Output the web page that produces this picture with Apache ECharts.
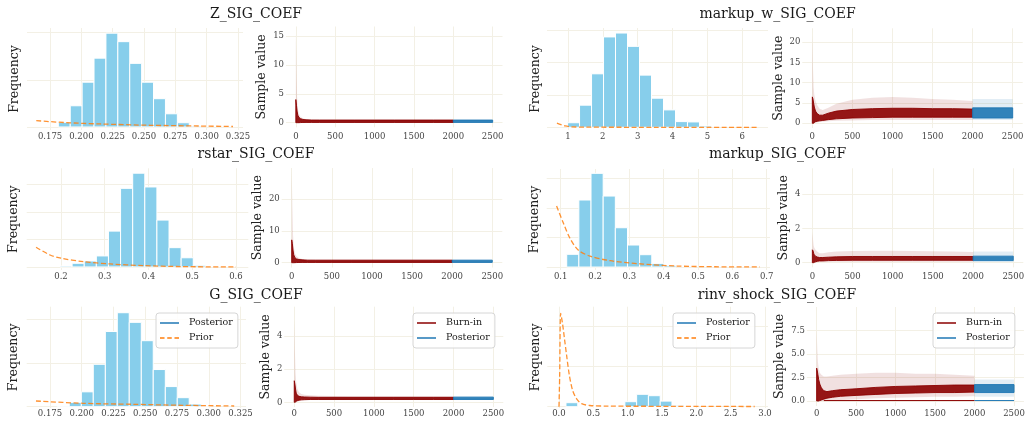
<!DOCTYPE html>
<html>
<head>
<meta charset="utf-8">
<title>SIG_COEF posteriors</title>
<script src="https://cdn.jsdelivr.net/npm/echarts@6/dist/echarts.min.js"></script>
<style>
    html, body { margin: 0; padding: 0; background: #fff; }
    #main { width: 1028px; height: 425px; }
</style>
</head>
<body>
<div id="main"></div>
<script>
// ---------- values ----------
var titles = ['Z_SIG_COEF', 'markup_w_SIG_COEF', 'rstar_SIG_COEF', 'markup_SIG_COEF', 'G_SIG_COEF', 'rinv_shock_SIG_COEF'];

// histogram bin edges / heights, prior curve points [x, density]
var zEdges = [0.1816, 0.1911, 0.2006, 0.2101, 0.2196, 0.2291, 0.2386, 0.2481, 0.2576, 0.2671, 0.2766, 0.2861, 0.2956];
var zHeights = [1.0, 4.5, 9.5, 14.6, 19.9, 18.1, 13.5, 9.5, 6.0, 2.8, 0.9, 0.2];
var zPrior = [[0.164, 1.34], [0.188, 0.92], [0.215, 0.64], [0.255, 0.36], [0.295, 0.2], [0.321, 0.1]];

var mwEdges = [0.990, 1.334, 1.678, 2.022, 2.366, 2.710, 3.054, 3.398, 3.742, 4.086, 4.430, 4.774, 5.118];
var mwHeights = [0.028, 0.136, 0.329, 0.556, 0.580, 0.498, 0.321, 0.179, 0.107, 0.035, 0.033, 0.008];
var mwPrior = [[0.685, 0.025], [0.8, 0.016], [0.92, 0.008], [1.1, 0.003], [1.5, 0.001], [3.0, 0.0], [6.46, 0.0]];

var rsEdges = [0.1977, 0.2254, 0.2531, 0.2808, 0.3085, 0.3362, 0.3639, 0.3916, 0.4193, 0.4470, 0.4747, 0.5024, 0.5301];
var rsHeights = [0.1, 0.4, 0.65, 1.2, 3.9, 8.55, 10.2, 8.7, 5.1, 2.1, 1.0, 0.18];
var rsPrior = [[0.143, 2.14], [0.175, 1.3], [0.2, 0.95], [0.251, 0.58], [0.312, 0.33], [0.387, 0.15], [0.473, 0.04], [0.6, 0.01]];

var mkEdges = [0.1175, 0.1529, 0.1883, 0.2237, 0.2591, 0.2945, 0.3299, 0.3653, 0.4007, 0.4361];
var mkHeights = [1.29, 6.79, 9.49, 7.19, 3.98, 2.23, 1.25, 0.37, 0.17];
var mkPrior = [[0.088, 6.18], [0.108, 4.43], [0.127, 2.91], [0.151, 1.72], [0.185, 1.11], [0.244, 0.64], [0.341, 0.3], [0.438, 0.1], [0.55, 0.03], [0.68, 0.01]];

var gEdges = [0.1808, 0.1902, 0.1997, 0.2091, 0.2186, 0.2280, 0.2374, 0.2469, 0.2563, 0.2658, 0.2752, 0.2846, 0.2941, 0.3035];
var gHeights = [0.15, 1.0, 3.4, 9.7, 17.2, 21.5, 19.3, 15.1, 8.5, 4.6, 2.06, 0.6, 0.15];
var gPrior = [[0.164, 1.3], [0.201, 0.78], [0.24, 0.55], [0.279, 0.32], [0.32, 0.16]];

var riEdges = [0.102, 0.2735, 0.445, 0.6165, 0.788, 0.9595, 1.131, 1.3025, 1.474, 1.6455, 1.817, 1.9885];
var riHeights = [0.2, 0, 0, 0, 0, 0.25, 0.62, 0.55, 0.28, 0.07, 0.015];
var riPrior = [[0.0, 0.0], [0.01, 1.5], [0.025, 4.67], [0.05, 4.2], [0.08, 3.4], [0.11, 2.6], [0.15, 1.6], [0.2, 0.8],
               [0.26, 0.38], [0.33, 0.15], [0.45, 0.06], [0.7, 0.03], [1.5, 0.02], [2.85, 0.01]];

// trace envelopes: faint = all chains (floor..peak), dense = bulk of chains (lo..hi)
var burnIters = [0, 8, 16, 25, 40, 60, 90, 130, 200, 300, 500, 750, 1000, 1250, 1500, 1750, 2000];
var postIters = [2000, 2500];

var zBurnPeak  = [15.5, 9.0, 4.5, 2.5, 1.5, 1.0, 0.75, 0.6, 0.55, 0.5, 0.5, 0.5, 0.5, 0.5, 0.5, 0.5, 0.5];
var zBurnHi    = [4.0, 3.0, 2.0, 1.3, 0.9, 0.7, 0.55, 0.5, 0.45, 0.45, 0.45, 0.45, 0.45, 0.45, 0.45, 0.45, 0.45];
var zBurnLo    = [0, 0, 0, 0, 0, 0.02, 0.04, 0.05, 0.05, 0.05, 0.05, 0.05, 0.05, 0.05, 0.05, 0.05, 0.05];
var zBurnFloor = [0, 0, 0, 0, 0, 0, 0, 0, 0, 0, 0, 0, 0, 0, 0, 0, 0];
var zPost = [0.0, 0.05, 0.45, 0.5];   // floor, lo, hi, peak

var mwBurnPeak  = [22, 14, 9, 7, 5.5, 4.5, 3.6, 3.3, 3.8, 4.8, 5.8, 6.3, 6.5, 6.3, 6.0, 5.8, 5.5];
var mwBurnHi    = [6.5, 6.0, 5.0, 4.0, 3.0, 2.4, 2.0, 2.0, 2.5, 3.0, 3.4, 3.6, 3.7, 3.7, 3.6, 3.6, 3.5];
var mwBurnLo    = [0, 0, 0, 0.2, 0.4, 0.5, 0.6, 0.7, 0.9, 1.1, 1.3, 1.4, 1.5, 1.5, 1.5, 1.5, 1.5];
var mwBurnFloor = [0, 0, 0, 0, 0.1, 0.2, 0.3, 0.4, 0.5, 0.6, 0.7, 0.8, 0.8, 0.8, 0.8, 0.8, 0.8];
var mwPost = [0.8, 1.3, 3.8, 6.0];

var rsBurnPeak  = [29, 18, 9, 5, 3, 2, 1.5, 1.2, 1.0, 0.9, 0.9, 0.9, 0.9, 0.9, 0.9, 0.9, 0.9];
var rsBurnHi    = [7.2, 6.0, 4.0, 2.5, 1.6, 1.2, 1.0, 0.9, 0.8, 0.8, 0.8, 0.8, 0.8, 0.8, 0.8, 0.8, 0.8];
var rsBurnLo    = [0, 0, 0, 0, 0.02, 0.05, 0.08, 0.1, 0.1, 0.1, 0.1, 0.1, 0.1, 0.1, 0.1, 0.1, 0.1];
var rsBurnFloor = [0, 0, 0, 0, 0, 0, 0, 0.05, 0.05, 0.05, 0.05, 0.05, 0.05, 0.05, 0.05, 0.05, 0.05];
var rsPost = [0.05, 0.1, 0.8, 0.9];

var mkBurnPeak  = [1.8, 1.4, 1.0, 0.85, 0.75, 0.65, 0.55, 0.55, 0.6, 0.65, 0.68, 0.7, 0.7, 0.68, 0.66, 0.65, 0.62];
var mkBurnHi    = [0.75, 0.7, 0.55, 0.45, 0.38, 0.33, 0.3, 0.3, 0.32, 0.34, 0.36, 0.36, 0.36, 0.36, 0.36, 0.36, 0.36];
var mkBurnLo    = [0, 0, 0, 0.02, 0.05, 0.08, 0.1, 0.1, 0.12, 0.13, 0.14, 0.14, 0.14, 0.14, 0.14, 0.14, 0.14];
var mkBurnFloor = [0, 0, 0, 0, 0, 0.02, 0.04, 0.05, 0.05, 0.06, 0.06, 0.06, 0.06, 0.06, 0.06, 0.06, 0.06];
var mkPost = [0.06, 0.12, 0.38, 0.65];

var gBurnPeak  = [5.0, 3.2, 1.8, 1.2, 0.8, 0.6, 0.5, 0.45, 0.42, 0.4, 0.38, 0.36, 0.36, 0.36, 0.36, 0.36, 0.36];
var gBurnHi    = [1.3, 1.1, 0.8, 0.55, 0.42, 0.36, 0.33, 0.32, 0.31, 0.3, 0.3, 0.3, 0.3, 0.3, 0.3, 0.3, 0.3];
var gBurnLo    = [0, 0, 0.02, 0.06, 0.1, 0.13, 0.15, 0.16, 0.17, 0.17, 0.17, 0.17, 0.17, 0.17, 0.17, 0.17, 0.17];
var gBurnFloor = [0, 0, 0, 0, 0.03, 0.06, 0.1, 0.12, 0.14, 0.15, 0.15, 0.15, 0.15, 0.15, 0.15, 0.15, 0.15];
var gPost = [0.15, 0.17, 0.31, 0.36];

var riBurnPeak  = [7.7, 5.5, 4.2, 3.5, 3.0, 2.8, 2.6, 2.6, 2.7, 2.8, 2.9, 3.0, 3.0, 2.9, 2.9, 2.8, 2.7];
var riBurnHi    = [3.5, 3.2, 2.8, 2.3, 1.8, 1.4, 1.1, 1.0, 1.1, 1.2, 1.3, 1.45, 1.55, 1.6, 1.65, 1.7, 1.7];
var riBurnLo    = [0, 0, 0, 0, 0.05, 0.1, 0.2, 0.3, 0.4, 0.5, 0.6, 0.7, 0.8, 0.85, 0.9, 0.9, 0.95];
var riBurnFloor = [0, 0, 0, 0, 0, 0, 0, 0, 0, 0.1, 0.2, 0.3, 0.35, 0.4, 0.45, 0.45, 0.5];
var riPost = [0.45, 0.9, 1.75, 2.3];
var riStuckBurn = [[90, 0.05], [2000, 0.05]];
var riStuckPost = [[2000, 0.05], [2500, 0.05]];

// tick labels
var traceXTicks = [0, 500, 1000, 1500, 2000, 2500];
var zXTicks = [0.175, 0.2, 0.225, 0.25, 0.275, 0.3, 0.325];
var mwXTicks = [1, 2, 3, 4, 5, 6];
var rsXTicks = [0.2, 0.3, 0.4, 0.5, 0.6];
var mkXTicks = [0.1, 0.2, 0.3, 0.4, 0.5, 0.6, 0.7];
var riXTicks = [0, 0.5, 1, 1.5, 2, 2.5, 3];
var zYGrid = [0, 10, 20], mwYGrid = [0, 0.2, 0.4, 0.6], rsYGrid = [0, 3, 6, 9], mkYGrid = [0, 3, 6, 9], gYGrid = [0, 10, 20], riYGrid = [0, 2, 4];
var zTraceY = [0, 5, 10, 15], mwTraceY = [0, 5, 10, 15, 20], rsTraceY = [0, 10, 20], mkTraceY = [0, 2, 4], gTraceY = [0, 2, 4], riTraceY = [0, 2.5, 5, 7.5];

// ---------- styling / layout ----------
var FONT = 'DejaVu Serif';
var GRID_COLOR = '#f3f0e5';
var BAR_COLOR = '#87ceeb';
var PRIOR_COLOR = '#ff7f0e';
var BURN_COLOR = '#8b0000';
var POST_COLOR = '#1f77b4';
var DASH_ICON = 'path://M0,0h5v1h-5z M8,0h5v1h-5z M16,0h5v1h-5z';

// box = [left, top, right, bottom] in px
var panels = [
    {kind: 'hist', box: [27, 28, 243, 130], x: [0.1566, 0.3290], y: [-0.64, 21.0], xt: zXTicks, dec: 3, yt: zYGrid, gap: 6, lm: 2.5,
     edges: zEdges, h: zHeights, prior: zPrior},
    {kind: 'trace', box: [286, 26.5, 502.5, 127.3], y: [-0.8, 16.64], yt: zTraceY, ydec: 0, gap: 18, lm: 5,
     burn: [zBurnFloor, zBurnLo, zBurnHi, zBurnPeak], post: zPost},
    {kind: 'hist', box: [547, 28, 768, 130], x: [0.4, 6.74], y: [-0.0167, 0.611], xt: mwXTicks, dec: 0, yt: mwYGrid, gap: 5, lm: 2.5,
     edges: mwEdges, h: mwHeights, prior: mwPrior},
    {kind: 'trace', box: [802.3, 28.3, 1022.7, 128], y: [-1.16, 23.4], yt: mwTraceY, ydec: 0, gap: 17.5, lm: 4.5,
     burn: [mwBurnFloor, mwBurnLo, mwBurnHi, mwBurnPeak], post: mwPost},
    {kind: 'hist', box: [26.7, 168.3, 248.3, 270], x: [0.1216, 0.6282], y: [-0.33, 10.73], xt: rsXTicks, dec: 1, yt: rsYGrid, gap: 6, lm: 2.5,
     edges: rsEdges, h: rsHeights, prior: rsPrior},
    {kind: 'trace', box: [281.7, 168, 502.3, 267.5], y: [-1.51, 29.87], yt: rsTraceY, ydec: 0, gap: 17.5, lm: 5,
     burn: [rsBurnFloor, rsBurnLo, rsBurnHi, rsBurnPeak], post: rsPost},
    {kind: 'hist', box: [546.7, 169, 770, 270], x: [0.0592, 0.7096], y: [-0.30, 9.93], xt: mkXTicks, dec: 1, yt: mkYGrid, gap: 5, lm: 2.5,
     edges: mkEdges, h: mkHeights, prior: mkPrior},
    {kind: 'trace', box: [802.3, 168.3, 1023.3, 267.3], y: [-0.27, 5.5], yt: mkTraceY, ydec: 0, gap: 12, lm: 5,
     burn: [mkBurnFloor, mkBurnLo, mkBurnHi, mkBurnPeak], post: mkPost},
    {kind: 'hist', box: [26.7, 306.7, 246, 408], x: [0.1567, 0.3293], y: [-0.3, 22.88], xt: zXTicks, dec: 3, yt: gYGrid, gap: 6.5, lm: 1,
     edges: gEdges, h: gHeights, prior: gPrior},
    {kind: 'trace', box: [284.3, 306.7, 503.3, 407], y: [-0.283, 5.76], yt: gTraceY, ydec: 0, gap: 12, lm: 2,
     burn: [gBurnFloor, gBurnLo, gBurnHi, gBurnPeak], post: gPost},
    {kind: 'hist', box: [547.3, 306.7, 768, 408], x: [-0.17, 3.044], y: [-0.065, 5.0], xt: riXTicks, dec: 1, yt: riYGrid, gap: 5, lm: 1,
     edges: riEdges, h: riHeights, prior: riPrior},
    {kind: 'trace', box: [806.8, 307, 1023.9, 406], y: [-0.53, 10.0], yt: riTraceY, ydec: 1, gap: 20.5, lm: 3,
     burn: [riBurnFloor, riBurnLo, riBurnHi, riBurnPeak], post: riPost}
];
var titlePos = [[256, 7], [777.5, 7], [256, 147], [777.5, 147], [256, 288], [777, 288]];

var grids = [], xAxes = [], yAxes = [], series = [];
var labelStyle = {fontFamily: FONT, fontSize: 8.5, color: '#444'};
var splitStyle = {show: true, lineStyle: {color: GRID_COLOR, width: 1}};

function fmt(d) { return function (v) { return Number(v).toFixed(d); }; }

// one filled polygon between lo and hi, drawn through the axis scales
function band(name, i, xs, lo, hi, color, alpha, stroke) {
    var rows = xs.map(function (x, k) { return [x, lo[k], hi[k]]; });
    return {
        type: 'custom', name: name, xAxisIndex: i, yAxisIndex: i, silent: true,
        data: rows, encode: {x: 0, y: [1, 2]},
        renderItem: function (params, api) {
            if (params.dataIndex !== 0) return null;
            var top = rows.map(function (r) { return api.coord([r[0], r[2]]); });
            var bot = rows.map(function (r) { return api.coord([r[0], r[1]]); }).reverse();
            return {
                type: 'polygon', shape: {points: top.concat(bot)},
                style: {fill: color, opacity: alpha, stroke: stroke ? color : null, lineWidth: stroke ? 1 : 0}
            };
        }
    };
}

panels.forEach(function (p, i) {
    var trace = p.kind === 'trace';
    grids.push({left: p.box[0], top: p.box[1], width: p.box[2] - p.box[0], height: p.box[3] - p.box[1],
                containLabel: false, outerBoundsMode: 'none'});
    var xt = trace ? traceXTicks : p.xt;
    xAxes.push({
        type: 'value', gridIndex: i, min: trace ? -125 : p.x[0], max: trace ? 2625 : p.x[1],
        axisLine: {show: false}, axisTick: {show: false, customValues: xt},
        axisLabel: Object.assign({customValues: xt, margin: p.lm, formatter: trace ? fmt(0) : fmt(p.dec)}, labelStyle),
        splitLine: splitStyle
    });
    yAxes.push({
        type: 'value', gridIndex: i, min: p.y[0], max: p.y[1],
        name: trace ? 'Sample value' : 'Frequency', nameLocation: 'middle', nameGap: p.gap,
        nameTextStyle: {fontFamily: FONT, fontSize: 12.5, color: '#222'},
        axisLine: {show: false}, axisTick: {show: false, customValues: p.yt},
        axisLabel: Object.assign({show: trace, customValues: p.yt, margin: 2, formatter: fmt(p.ydec || 0)}, labelStyle),
        splitLine: splitStyle
    });

    if (!trace) {
        var rows = p.h.map(function (h, k) { return [p.edges[k], p.edges[k + 1], h]; });
        series.push({
            type: 'custom', name: 'hist' + i, xAxisIndex: i, yAxisIndex: i, silent: true,
            data: rows, encode: {x: [0, 1], y: 2},
            renderItem: function (params, api) {
                var a = api.coord([api.value(0), 0]);
                var b = api.coord([api.value(1), api.value(2)]);
                return {type: 'rect', shape: {x: a[0], y: b[1], width: b[0] - a[0], height: a[1] - b[1]},
                        style: {fill: BAR_COLOR, stroke: '#fff', lineWidth: 1}};
            }
        });
        series.push({
            type: 'line', name: 'Prior', xAxisIndex: i, yAxisIndex: i, data: p.prior, smooth: 0.3,
            showSymbol: false, symbol: 'none', silent: true,
            lineStyle: {color: PRIOR_COLOR, width: 1.3, type: [5, 2.5], opacity: 0.85}
        });
    } else {
        var b = p.burn;
        series.push(band('Burn-in', i, burnIters, b[0], b[3], BURN_COLOR, 0.12, false));
        series.push(band('Burn-in', i, burnIters, b[1], b[2], BURN_COLOR, 0.9, true));
        var q = p.post;
        series.push(band('Posterior', i, postIters, [q[0], q[0]], [q[3], q[3]], POST_COLOR, 0.13, false));
        series.push(band('Posterior', i, postIters, [q[1], q[1]], [q[2], q[2]], POST_COLOR, 0.9, true));
    }
});

// stuck chain in the rinv_shock trace
series.push({type: 'line', name: 'Burn-in', xAxisIndex: 11, yAxisIndex: 11, data: riStuckBurn, symbol: 'none', silent: true,
             lineStyle: {color: BURN_COLOR, width: 1}});
series.push({type: 'line', name: 'Posterior', xAxisIndex: 11, yAxisIndex: 11, data: riStuckPost, symbol: 'none', silent: true,
             lineStyle: {color: POST_COLOR, width: 1}});

var titleList = titles.map(function (t, k) {
    return {text: t, left: titlePos[k][0], top: titlePos[k][1], textAlign: 'center', padding: 0,
            textStyle: {fontFamily: FONT, fontSize: 14, fontWeight: 'normal', color: '#1a1a1a'}};
});

function legendAt(left, top, items) {
    return {
        left: left, top: top, orient: 'vertical', selectedMode: false, symbolKeepAspect: false,
        itemWidth: 19, itemHeight: 1.5, itemGap: 5, padding: [5, 5, 5, 4],
        borderColor: '#d6d6d6', borderWidth: 1, borderRadius: 3, backgroundColor: 'rgba(255,255,255,0.85)',
        textStyle: {fontFamily: FONT, fontSize: 9.5, color: '#222', padding: [0, 0, 0, 5]},
        data: items
    };
}
var histLegend = [{name: 'Posterior', icon: 'rect', itemStyle: {color: POST_COLOR}},
                  {name: 'Prior', icon: DASH_ICON, itemStyle: {color: PRIOR_COLOR}}];
var traceLegend = [{name: 'Burn-in', icon: 'rect', itemStyle: {color: BURN_COLOR}},
                   {name: 'Posterior', icon: 'rect', itemStyle: {color: POST_COLOR}}];

var chart = echarts.init(document.getElementById('main'));
chart.setOption({
    backgroundColor: '#ffffff',
    animation: false,
    title: titleList,
    legend: [legendAt(156, 313, histLegend), legendAt(413, 313, traceLegend),
             legendAt(673, 313, histLegend), legendAt(933, 313, traceLegend)],
    grid: grids,
    xAxis: xAxes,
    yAxis: yAxes,
    series: series
});
</script>
</body>
</html>
